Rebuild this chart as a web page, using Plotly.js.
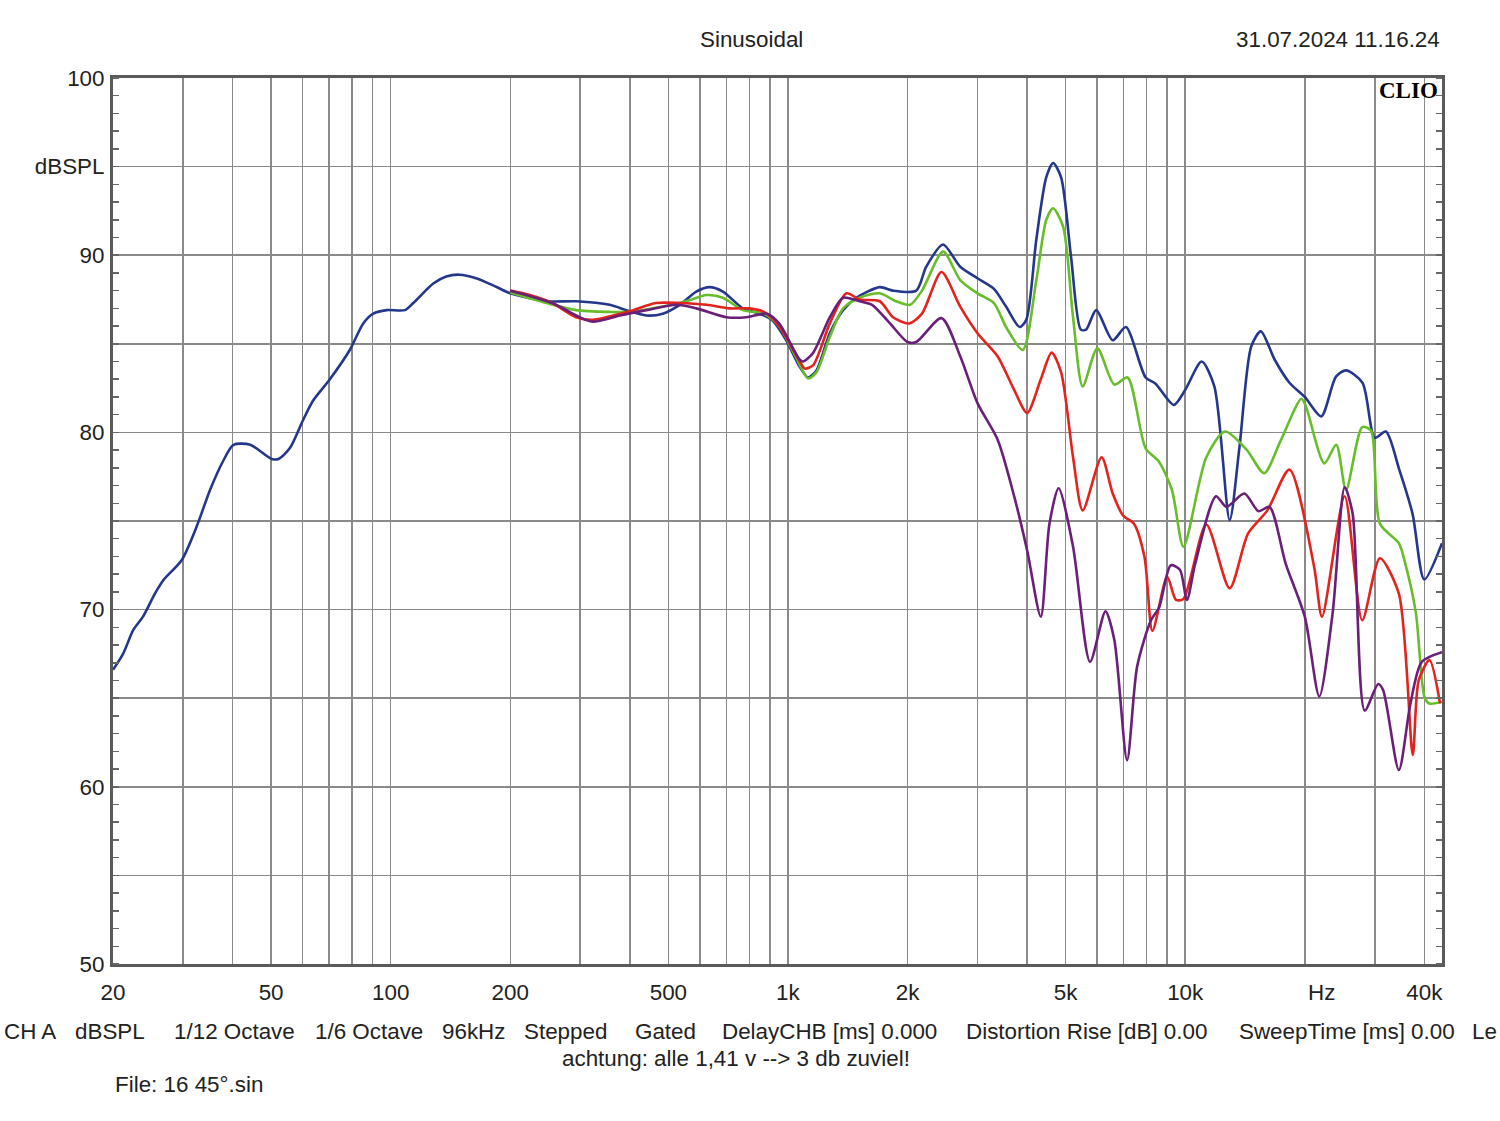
<!DOCTYPE html>
<html><head><meta charset="utf-8">
<script src="https://cdn.plot.ly/plotly-3.0.1.min.js"></script>
<style>html,body{margin:0;padding:0;background:#fff;} #chart{width:1500px;height:1121px;}</style>
</head><body><div id="chart"></div>
<script>
// ---- data ----
const freqBlue = [20,21.2,22.5,23.8,25.5,26.8,29.8,32.5,35.1,37.9,40.2,44.3,50.2,52.2,55.7,60.2,63.8,70.3,78.9,85.3,90.4,97.7,108.6,114,128,138,149,164,181,200,247,293,356,392,440,484,534,588,635,686,770,849,916,990,1071,1124,1180,1275,1377,1487,1703,1838,2104,2229,2457,2714,3000,3300,3540,3830,3980,4220,4470,4650,4870,5160,5460,5630,5970,6570,7090,7950,8420,9360,10000,11000,11840,12940,13700,14660,15500,16800,18300,20000,22000,23960,25400,27940,30000,32000,34580,37350,39970,44300];
const splBlue  = [66.6,67.5,68.85,69.6,70.9,71.67,72.8,74.7,76.75,78.4,79.3,79.3,78.5,78.5,79.1,80.7,81.8,83.0,84.65,86.15,86.7,86.9,86.9,87.3,88.4,88.8,88.9,88.7,88.3,87.85,87.4,87.4,87.2,86.9,86.6,86.7,87.2,87.95,88.2,87.95,87.0,86.7,86.3,85.2,83.7,83.1,83.5,85.6,86.9,87.6,88.2,88.0,88.0,89.35,90.6,89.35,88.7,88.1,87.1,85.95,86.35,90.9,94.4,95.2,94.4,89.9,85.8,85.8,86.9,85.2,85.95,83.1,82.75,81.55,82.4,84.0,82.6,75.05,79.2,84.85,85.7,84.1,82.8,82.0,80.9,83.15,83.5,82.8,79.7,80.05,77.9,75.4,71.7,73.75];

const freqGreen = [200,247,293,356,400,484,555,624,686,770,870,950,1045,1124,1180,1275,1377,1515,1703,1873,2030,2175,2457,2714,3000,3300,3540,3900,4220,4470,4650,4930,5220,5520,6010,6630,7160,7950,8590,9260,9900,11300,12600,14300,15800,17400,19600,20140,22400,24000,25400,27900,29360,30900,34500,35940,38080,40000,41140,44300];
const splGreen  = [87.9,87.3,86.9,86.8,86.8,87.1,87.4,87.75,87.6,86.9,86.7,86.0,84.3,83.05,83.4,85.4,87.0,87.6,87.85,87.4,87.2,88.0,90.2,88.6,87.85,87.3,85.95,84.65,88.6,92.0,92.65,91.6,86.5,82.6,84.75,82.7,83.1,79.1,78.35,76.75,73.55,78.6,80.05,79.0,77.7,79.55,81.9,81.45,78.25,79.3,76.75,80.3,80.1,74.85,73.75,72.45,69.8,65.1,64.7,64.8];

const freqRed = [200,224,255,293,322,363,408,465,534,624,714,801,870,950,1071,1103,1158,1275,1404,1515,1703,1838,2020,2175,2435,2714,3000,3370,3710,4000,4330,4610,4870,5220,5520,6160,6570,6980,7430,7900,8270,9010,9480,9900,11300,12940,14400,16100,18300,21100,22100,25200,27900,30900,34500,37400,38700,41200,43800];
const splRed  = [88.0,87.75,87.3,86.5,86.35,86.6,86.9,87.3,87.3,87.2,87.0,87.0,86.8,86.0,84.0,83.6,83.8,86.15,87.85,87.5,87.4,86.5,86.15,86.7,89.05,87.1,85.6,84.3,82.4,81.1,83.0,84.5,83.4,78.6,75.6,78.6,76.55,75.3,74.85,72.95,68.8,71.85,70.55,70.6,74.8,71.2,74.3,75.6,77.9,72.45,69.6,76.4,69.4,72.9,70.9,61.8,66.0,67.15,64.7];

const freqPurple = [200,255,293,322,378,440,524,588,700,786,886,950,1071,1092,1158,1275,1377,1515,1628,1807,2000,2104,2435,2714,3000,3370,3710,4000,4330,4550,4800,5220,5760,6300,6630,7140,7570,8200,8590,9200,9700,10100,10600,11950,12700,14090,15300,16300,17900,20000,21750,23500,25200,26400,28300,30600,31500,34500,36900,39400,44300];
const splPurple  = [88.0,87.3,86.6,86.25,86.6,86.9,87.2,87.0,86.5,86.5,86.7,86.15,84.1,84.0,84.5,86.5,87.6,87.4,87.2,86.15,85.1,85.1,86.45,84.3,81.65,79.6,76.4,73.35,69.6,74.8,76.85,73.55,67.05,69.9,68.3,61.5,66.8,69.4,70.1,72.5,72.25,70.55,72.6,76.4,75.8,76.55,75.55,75.8,72.6,69.6,65.1,69.8,76.9,75.4,64.3,65.8,65.45,60.95,64.7,67.05,67.6];

const xGridVals = [20,30,40,50,60,70,80,90,100,200,300,400,500,600,700,800,900,1000,2000,3000,4000,5000,6000,7000,8000,9000,10000,20000,30000,40000];
const xLabelVals = [20,50,100,200,500,1000,2000,5000,10000,40000];
const xLabelText = ['20','50','100','200','500','1k','2k','5k','10k','40k'];
const xUnitLabel = 'Hz';
const yGridVals = [50,55,60,65,70,75,80,85,90,95,100];
const yGridText = ['50','','60','','70','','80','','90','dBSPL','100'];

const titleText = 'Sinusoidal';
const dateText = '31.07.2024 11.16.24';
const brandText = 'CLIO';
const infoItems = ['CH A','dBSPL','1/12 Octave','1/6 Octave','96kHz','Stepped','Gated','DelayCHB [ms] 0.000','Distortion Rise [dB] 0.00','SweepTime [ms] 0.00'];
const infoTail = 'Le';
const noteText = 'achtung: alle 1,41 v --> 3 db zuviel!';
const fileText = 'File: 16 45°.sin';

// ---- layout geometry (pixels) ----
const W = 1500, H = 1121, L = 113, R = 1442, T = 78, B = 964;
const px = x => (x - L) / (R - L);
const py = y => (B - y) / (B - T);
const FONT = 'Liberation Sans, Arial, sans-serif';
const TXT = '#222';
const FS = 22.4;

function mk(f, s, c) {
  return {x: f, y: s, type: 'scatter', mode: 'lines', hoverinfo: 'skip',
          line: {color: c, width: 2.6, shape: 'spline', smoothing: 0.75}};
}
const traces = [
  mk(freqBlue, splBlue, '#24378c'),
  mk(freqGreen, splGreen, '#68bd2a'),
  mk(freqRed, splRed, '#e3231d'),
  mk(freqPurple, splPurple, '#6a1f78')
];

const xText = xGridVals.map(v => { const i = xLabelVals.indexOf(v); return i >= 0 ? xLabelText[i] : ''; });

const infoX = [2,73,172,313,440,522,633,720,964,1237];
const annotations = [
  {text: titleText, x: px(751), y: py(39), xanchor: 'center', yanchor: 'middle'},
  {text: dateText, x: px(1442), y: py(39), xanchor: 'right', yanchor: 'middle'},
  {text: xUnitLabel, x: px(1321), y: py(992), xanchor: 'center', yanchor: 'middle'},
  {text: noteText, x: px(560), y: py(1058), xanchor: 'left', yanchor: 'middle'},
  {text: fileText, x: px(113), y: py(1084), xanchor: 'left', yanchor: 'middle'},
  {text: infoTail, x: px(1499), y: py(1031), xanchor: 'right', yanchor: 'middle'},
  {text: '<b>' + brandText + '</b>', x: px(1440), y: py(90), xanchor: 'right', yanchor: 'middle',
   font: {family: 'Liberation Serif, serif', size: 23, color: '#000'}}
].concat(infoItems.map((t, i) => ({text: t, x: px(infoX[i]), y: py(1031), xanchor: 'left', yanchor: 'middle'})))
 .map(a => Object.assign({xref: 'paper', yref: 'paper', showarrow: false, font: {family: FONT, size: FS, color: TXT}}, a));

const layout = {
  width: W, height: H,
  margin: {l: L, r: W - R, t: T, b: H - B, pad: 0},
  paper_bgcolor: '#fff', plot_bgcolor: '#fff',
  showlegend: false,
  font: {family: FONT, size: FS, color: TXT},
  xaxis: {
    type: 'log', range: [Math.log10(20), Math.log10(44300)],
    tickmode: 'array', tickvals: xGridVals, ticktext: xText,
    showgrid: true, gridcolor: '#8a8a8a', gridwidth: 1.5,
    showline: true, mirror: true, linecolor: '#5a5a5a', linewidth: 3,
    ticks: '', ticklabelstandoff: 6, zeroline: false,
    tickfont: {family: FONT, size: FS, color: TXT}
  },
  yaxis: {
    range: [50, 100], tickmode: 'array', tickvals: yGridVals, ticktext: yGridText,
    showgrid: true, gridcolor: '#8a8a8a', gridwidth: 1.5,
    showline: true, mirror: 'allticks', linecolor: '#5a5a5a', linewidth: 3,
    ticks: '', zeroline: false, ticklabelstandoff: 1,
    tickfont: {family: FONT, size: FS, color: TXT},
    minor: {tickmode: 'linear', tick0: 50, dtick: 1, ticks: 'inside', ticklen: 6, tickwidth: 1.5, tickcolor: '#666', showgrid: false}
  },
  annotations: annotations
};

Plotly.newPlot('chart', traces, layout, {displayModeBar: false, staticPlot: true});
</script>
</body></html>
